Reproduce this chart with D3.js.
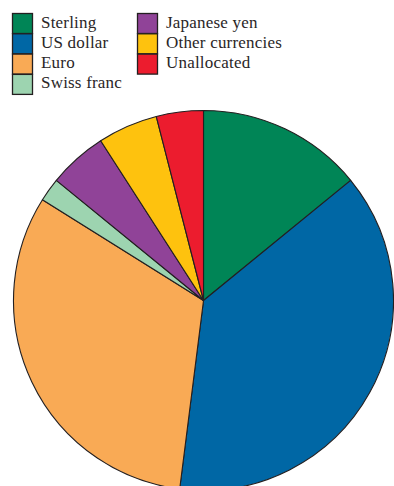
<!DOCTYPE html>
<html>
<head>
<meta charset="utf-8">
<script src="https://cdn.jsdelivr.net/npm/d3@7"></script>
<style>
  html, body { margin: 0; padding: 0; background: #fff; }
  svg { display: block; }
</style>
</head>
<body>
<svg id="chart" width="394" height="486"></svg>
<script>
// Currency composition (% share)
const categories = ["Sterling", "US dollar", "Euro", "Swiss franc", "Japanese yen", "Other currencies", "Unallocated"];
const shares = [14.1, 37.9, 31.9, 2.0, 5.0, 5.1, 4.0];
const colors = ["#008556", "#0067a5", "#f9aa55", "#9dd4b0", "#904398", "#fec20e", "#ec1c2e"];

// Legend layout: two columns of entries
const legendColumns = [
  ["Sterling", "US dollar", "Euro", "Swiss franc"],
  ["Japanese yen", "Other currencies", "Unallocated"]
];

const svg = d3.select("#chart");
const cx = 203.5, cy = 300.5, R = 190;

const color = d3.scaleOrdinal().domain(categories).range(colors);

const data = categories.map((c, i) => ({ name: c, value: shares[i] }));
const pie = d3.pie().sort(null).value(d => d.value).startAngle(0).endAngle(2 * Math.PI);
const arc = d3.arc().innerRadius(0).outerRadius(R);

svg.append("g")
  .attr("transform", `translate(${cx},${cy})`)
  .selectAll("path")
  .data(pie(data))
  .join("path")
  .attr("d", arc)
  .attr("fill", d => color(d.data.name))
  .attr("stroke", "#231f20")
  .attr("stroke-width", 1.1)
  .attr("stroke-linejoin", "round");

// Legend
const colX = [12, 137];
const rowH = 20.3, top0 = 13, box = 20;
const legend = svg.append("g");
legendColumns.forEach((col, ci) => {
  col.forEach((name, ri) => {
    const g = legend.append("g")
      .attr("transform", `translate(${colX[ci]},${top0 + ri * rowH})`);
    g.append("rect")
      .attr("x", 0.5).attr("y", 0.5)
      .attr("width", box).attr("height", box)
      .attr("fill", color(name))
      .attr("stroke", "#231f20")
      .attr("stroke-width", 1.3);
    g.append("text")
      .attr("x", 29)
      .attr("y", 14.5)
      .attr("font-family", "'Liberation Serif', 'DejaVu Serif', serif")
      .attr("font-size", 17)
      .attr("letter-spacing", 0.2)
      .attr("fill", "#2a2627")
      .text(name);
  });
});
</script>
</body>
</html>
